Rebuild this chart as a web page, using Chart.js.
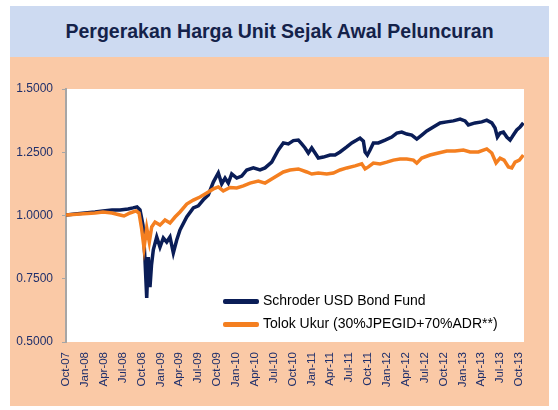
<!DOCTYPE html>
<html>
<head>
<meta charset="utf-8">
<script src="https://cdn.jsdelivr.net/npm/chart.js@4"></script>
<style>
    body { margin: 0; background: #fff; font-family: "Liberation Sans", Arial, sans-serif; }
    #page { position: relative; width: 558px; height: 410px; overflow: hidden; }
    #title-box {
        position: absolute; left: 10px; top: 6px; width: 539px; height: 51px;
        background: #cddaf1; color: #14224a; font-weight: bold; font-size: 19.5px;
        line-height: 51px; text-align: center;
    }
    #panel { position: absolute; left: 10px; top: 57px; width: 539px; height: 349px; background: #fac9a6; }
    #chart { position: absolute; left: 0; top: 0; }
    .legend-item { position: absolute; left: 223px; font-size: 14px; line-height: 16px; color: #000; white-space: nowrap; }
    .legend-item span { display: inline-block; width: 36px; height: 5px; margin-right: 4px; vertical-align: middle; border-radius: 2px; }
</style>
</head>
<body>
<div id="page">
    <div id="title-box">Pergerakan Harga Unit Sejak Awal Peluncuran</div>
    <div id="panel"></div>
    <canvas id="chart" width="558" height="410"></canvas>
    <div class="legend-item" style="top:292px"><span style="background:#0a1d57"></span>Schroder USD Bond Fund</div>
    <div class="legend-item" style="top:315px"><span style="background:#f47f20"></span>Tolok Ukur (30%JPEGID+70%ADR**)</div>
</div>
<script>
// Months since Oct-07
const fundMonths = [0, 1.43, 3.02, 4.61, 5.88, 7.31, 8.59, 9.86, 10.65, 11.29, 11.76, 12.24, 12.56, 12.83, 13.08, 13.35, 13.59, 13.88, 14.42, 14.94, 15.47, 16.01, 16.53, 17.06, 17.6, 18.12, 19.19, 20.24, 21.03, 21.83, 22.62, 23.42, 24.21, 24.75, 25.28, 25.8, 26.34, 27.14, 27.93, 28.73, 29.78, 30.84, 31.64, 32.7, 33.75, 34.55, 35.34, 36.14, 36.93, 37.47, 38.0, 38.52, 39.06, 39.59, 40.11, 40.91, 41.97, 42.77, 43.56, 44.63, 45.42, 46.22, 46.74, 47.27, 47.54, 47.9, 48.33, 48.86, 49.65, 50.72, 51.78, 52.58, 53.37, 54.17, 54.96, 55.76, 56.55, 57.35, 58.39, 59.46, 60.52, 61.57, 62.64, 63.43, 63.96, 65.02, 66.09, 66.88, 67.68, 68.2, 68.57, 69.0, 69.52, 70.06, 70.59, 71.11, 71.65, 72.18, 72.7];
const fundValues = [1.002, 1.006, 1.010, 1.014, 1.018, 1.022, 1.022, 1.026, 1.030, 1.034, 1.022, 0.962, 0.824, 0.674, 0.836, 0.717, 0.804, 0.864, 0.915, 0.875, 0.911, 0.895, 0.915, 0.852, 0.903, 0.943, 0.994, 1.030, 1.038, 1.062, 1.081, 1.132, 1.168, 1.125, 1.148, 1.128, 1.164, 1.148, 1.156, 1.180, 1.188, 1.180, 1.188, 1.211, 1.259, 1.287, 1.283, 1.296, 1.298, 1.283, 1.267, 1.247, 1.267, 1.247, 1.227, 1.231, 1.239, 1.239, 1.251, 1.271, 1.287, 1.298, 1.306, 1.294, 1.251, 1.239, 1.259, 1.287, 1.287, 1.298, 1.310, 1.326, 1.330, 1.322, 1.318, 1.302, 1.318, 1.334, 1.350, 1.366, 1.370, 1.374, 1.381, 1.374, 1.358, 1.366, 1.370, 1.377, 1.366, 1.346, 1.310, 1.326, 1.330, 1.310, 1.298, 1.318, 1.338, 1.350, 1.366];

const benchMonths = [0, 2.23, 4.61, 5.88, 7.31, 8.59, 9.22, 10.17, 11.13, 11.61, 12.0, 12.4, 12.83, 13.24, 13.62, 14.15, 14.94, 15.74, 16.53, 17.33, 18.12, 19.19, 20.24, 21.3, 22.37, 23.42, 24.21, 25.0, 26.07, 27.14, 28.19, 29.25, 30.57, 31.64, 32.96, 34.55, 35.61, 36.93, 38.27, 39.06, 40.11, 41.45, 42.5, 43.56, 44.63, 45.95, 47.01, 47.54, 48.06, 48.86, 49.92, 50.99, 52.03, 53.1, 54.17, 55.22, 55.76, 56.55, 57.87, 59.19, 60.52, 61.84, 63.16, 64.23, 65.55, 66.88, 67.68, 68.36, 69.0, 69.63, 70.32, 70.86, 71.38, 72.07, 72.7];
const benchValues = [1.002, 1.006, 1.010, 1.014, 1.010, 1.002, 0.998, 1.010, 1.018, 1.010, 0.951, 0.872, 0.951, 0.895, 0.955, 0.974, 0.962, 0.982, 0.970, 0.994, 1.014, 1.045, 1.061, 1.073, 1.089, 1.105, 1.113, 1.097, 1.111, 1.109, 1.117, 1.128, 1.136, 1.128, 1.148, 1.172, 1.180, 1.184, 1.172, 1.164, 1.168, 1.164, 1.168, 1.180, 1.188, 1.196, 1.204, 1.184, 1.192, 1.207, 1.204, 1.211, 1.219, 1.223, 1.223, 1.219, 1.207, 1.227, 1.239, 1.247, 1.255, 1.255, 1.259, 1.251, 1.251, 1.263, 1.247, 1.208, 1.227, 1.219, 1.192, 1.188, 1.211, 1.219, 1.239];

const tickLabels = ['Oct-07', 'Jan-08', 'Apr-08', 'Jul-08', 'Oct-08', 'Jan-09', 'Apr-09', 'Jul-09', 'Oct-09',
    'Jan-10', 'Apr-10', 'Jul-10', 'Oct-10', 'Jan-11', 'Apr-11', 'Jul-11', 'Oct-11', 'Jan-12', 'Apr-12',
    'Jul-12', 'Oct-12', 'Jan-13', 'Apr-13', 'Jul-13', 'Oct-13'];

const FONT = '"Liberation Sans", Arial, sans-serif';
const LABEL_COLOR = '#1f2f6b';

function toPoints(xs, ys) {
    return xs.map((x, i) => ({ x: x, y: ys[i] }));
}

// white plot area
const plotBackground = {
    id: 'plotBackground',
    beforeDraw(chart) {
        const a = chart.chartArea;
        chart.ctx.save();
        chart.ctx.fillStyle = '#ffffff';
        chart.ctx.fillRect(a.left, a.top, a.right - a.left, a.bottom - a.top);
        chart.ctx.restore();
    }
};

new Chart(document.getElementById('chart'), {
    type: 'line',
    data: {
        datasets: [
            {
                label: 'Tolok Ukur (30%JPEGID+70%ADR**)',
                data: toPoints(benchMonths, benchValues),
                borderColor: '#f47f20',
                borderWidth: 3.5,
                pointRadius: 0,
                tension: 0
            },
            {
                label: 'Schroder USD Bond Fund',
                data: toPoints(fundMonths, fundValues),
                borderColor: '#0a1d57',
                borderWidth: 3.5,
                pointRadius: 0,
                tension: 0
            }
        ]
    },
    options: {
        responsive: false,
        animation: false,
        layout: { padding: { top: 89, right: 34, left: 0, bottom: 0 } },
        plugins: {
            legend: { display: false },
            tooltip: { enabled: false }
        },
        scales: {
            x: {
                type: 'linear',
                min: 0,
                max: 72.8,
                grid: { display: false },
                border: { display: false },
                afterFit: (scale) => { scale.height = 68; },
                ticks: {
                    stepSize: 3,
                    includeBounds: false,
                    autoSkip: false,
                    minRotation: 90,
                    maxRotation: 90,
                    padding: 2,
                    color: LABEL_COLOR,
                    font: { family: FONT, size: 11.5 },
                    callback: (value) => tickLabels[Math.round(value / 3)]
                }
            },
            y: {
                min: 0.5,
                max: 1.5,
                grid: { drawOnChartArea: false, drawTicks: true, tickLength: 4, color: '#a6a6a6' },
                border: { display: true, color: '#a6a6a6', width: 2 },
                afterFit: (scale) => { scale.width = 66; },
                ticks: {
                    stepSize: 0.25,
                    padding: 9,
                    color: LABEL_COLOR,
                    font: { family: FONT, size: 12 },
                    callback: (value) => value.toFixed(4)
                }
            }
        }
    },
    plugins: [plotBackground]
});
</script>
</body>
</html>
